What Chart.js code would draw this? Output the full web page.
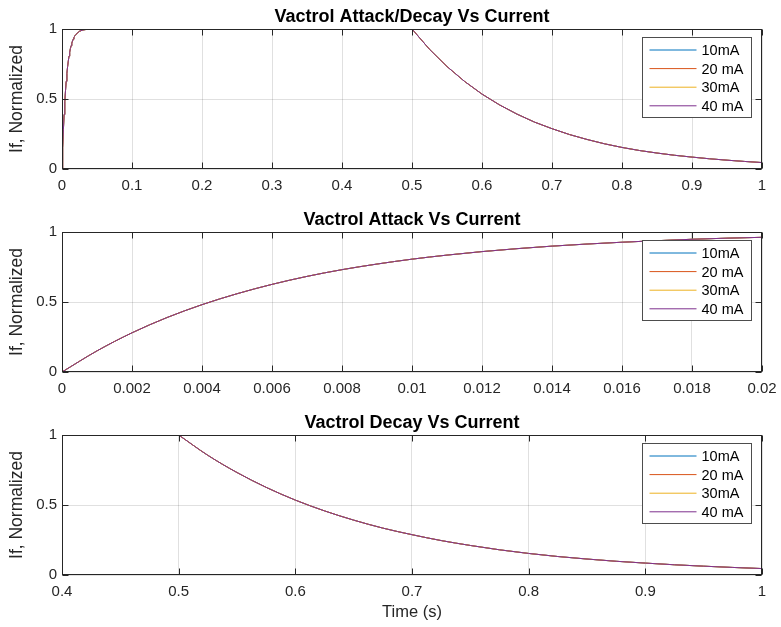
<!DOCTYPE html>
<html>
<head>
<meta charset="utf-8">
<script src="https://cdn.jsdelivr.net/npm/chart.js@4/dist/chart.umd.min.js"></script>
<style>
  html, body { margin: 0; padding: 0; background: #fff; }
  #wrap { position: relative; width: 781px; height: 627px; }
  canvas { position: absolute; left: 0; }
</style>
</head>
<body>
<div id="wrap">
  <canvas id="chartBoth" width="781" height="200" style="top:0px"></canvas>
  <canvas id="chartAttack" width="781" height="200" style="top:200px"></canvas>
  <canvas id="chartDecay" width="781" height="227" style="top:400px"></canvas>
</div>
<script>
// ********
// * Data *
// ********
const currents = ['10mA', '20 mA', '30mA', '40 mA'];
const lineColors = ['#0072BD', '#D95319', '#EDB120', '#7E2F8E'];

// attack
const attackTime = [0, 0.001, 0.002, 0.003, 0.004, 0.005, 0.006, 0.007, 0.008, 0.009, 0.01,
    0.011, 0.012, 0.013, 0.014, 0.015, 0.016, 0.017, 0.018, 0.019, 0.02];
const attackLevel = [0, 0.151, 0.280, 0.389, 0.481, 0.559, 0.626, 0.683, 0.731, 0.771, 0.806,
    0.835, 0.860, 0.881, 0.899, 0.914, 0.927, 0.938, 0.948, 0.956, 0.962];

// settling to full level (top plot)
const settleTime = [0.025, 0.03, 0.035, 0.04];
const settleLevel = [0.984, 0.993, 0.997, 0.999];

// decay after the LED switches off at 0.5 s
const decayTime = [0.5, 0.525, 0.55, 0.575, 0.6, 0.625, 0.65, 0.675, 0.7, 0.725, 0.75,
    0.775, 0.8, 0.825, 0.85, 0.875, 0.9, 0.925, 0.95, 0.975, 1];
const decayLevel = [1, 0.855, 0.732, 0.626, 0.535, 0.458, 0.392, 0.335, 0.288, 0.246, 0.211,
    0.180, 0.154, 0.132, 0.114, 0.098, 0.085, 0.073, 0.063, 0.054, 0.046];

// tick labels
const fullTicks = [0, 0.1, 0.2, 0.3, 0.4, 0.5, 0.6, 0.7, 0.8, 0.9, 1];
const attackTicks = [0, 0.002, 0.004, 0.006, 0.008, 0.01, 0.012, 0.014, 0.016, 0.018, 0.02];
const decayTicks = [0.4, 0.5, 0.6, 0.7, 0.8, 0.9, 1];
const levelTicks = [0, 0.5, 1];

// ***********
// * Helpers *
// ***********
const fontFamily = '"Liberation Sans", Arial, Helvetica, sans-serif';
const axisColor = '#262626';

function toPoints(times, levels) {
    return times.map((t, i) => ({ x: t, y: levels[i] }));
}

function makeDatasets(points, smooth) {
    return currents.map((label, i) => ({
        label: label,
        data: points,
        borderColor: lineColors[i],
        backgroundColor: lineColors[i],
        borderWidth: 1,
        pointRadius: 0,
        showLine: true,
        fill: false,
        cubicInterpolationMode: smooth ? 'monotone' : 'default',
        tension: 0,
        order: currents.length - i // purple ends up on top, like MATLAB
    }));
}

function fmt(v) {
    return String(parseFloat(v.toFixed(6)));
}

// box, inward ticks, bold title and legend, drawn the way MATLAB does it
const matlabAxes = {
    id: 'matlabAxes',
    afterDraw(chart, args, opts) {
        const { ctx, chartArea: a, scales } = chart;
        const L = Math.round(a.left) + 0.5, R = Math.round(a.right) - 0.5;
        const T = Math.round(a.top) + 0.5, B = Math.round(a.bottom) - 0.5;
        ctx.save();
        ctx.strokeStyle = axisColor;
        ctx.lineWidth = 1;
        ctx.beginPath();
        scales.x.ticks.forEach(t => {
            const px = Math.round(scales.x.getPixelForValue(t.value)) + 0.5;
            ctx.moveTo(px, B); ctx.lineTo(px, B - 6);
            ctx.moveTo(px, T); ctx.lineTo(px, T + 6);
        });
        scales.y.ticks.forEach(t => {
            const py = Math.round(scales.y.getPixelForValue(t.value)) + 0.5;
            ctx.moveTo(L, py); ctx.lineTo(L + 6, py);
            ctx.moveTo(R, py); ctx.lineTo(R - 6, py);
        });
        ctx.stroke();
        ctx.strokeRect(L, T, R - L, B - T);

        // title
        ctx.fillStyle = '#000';
        ctx.font = 'bold 18px ' + fontFamily;
        ctx.textAlign = 'center';
        ctx.textBaseline = 'alphabetic';
        ctx.fillText(opts.title, (a.left + a.right) / 2, a.top - 7);

        // legend
        const w = 109, h = 80;
        const lx = Math.round(a.right) - 11 - w + 0.5;
        const ly = Math.round(a.top) + 8 + 0.5;
        ctx.fillStyle = '#fff';
        ctx.fillRect(lx, ly, w, h);
        ctx.strokeStyle = '#4d4d4d';
        ctx.strokeRect(lx, ly, w, h);
        ctx.font = '14.5px ' + fontFamily;
        ctx.textAlign = 'left';
        ctx.textBaseline = 'middle';
        chart.data.datasets.forEach((ds, i) => {
            const ry = ly + 12.5 + i * 18.6;
            ctx.strokeStyle = ds.borderColor;
            ctx.lineWidth = 1;
            ctx.beginPath();
            ctx.moveTo(lx + 7, ry);
            ctx.lineTo(lx + 54, ry);
            ctx.stroke();
            ctx.fillStyle = '#000';
            ctx.fillText(ds.label, lx + 59, ry + 1);
        });
        ctx.restore();
    }
};

function makeOptions(title, xTicks, padTop, xHeight, xTitle) {
    const tickFont = { family: fontFamily, size: 15 };
    return {
        responsive: false,
        animation: false,
        events: [],
        layout: { padding: { top: padTop, right: 19, left: 0, bottom: 0 } },
        plugins: {
            legend: { display: false },
            tooltip: { enabled: false },
            matlabAxes: { title: title }
        },
        scales: {
            x: {
                type: 'linear',
                min: xTicks[0],
                max: xTicks[xTicks.length - 1],
                afterBuildTicks: scale => { scale.ticks = xTicks.map(v => ({ value: v })); },
                afterFit: scale => {
                    scale.height = xHeight;
                    scale.paddingLeft = 0;
                    scale.paddingRight = 0;
                },
                grid: { color: 'rgba(0,0,0,0.12)', drawTicks: false },
                border: { display: false },
                ticks: {
                    font: tickFont, color: axisColor, padding: 8, maxRotation: 0,
                    autoSkip: false, callback: v => fmt(v)
                },
                title: {
                    display: !!xTitle, text: xTitle || '',
                    font: { family: fontFamily, size: 16.5 }, color: axisColor,
                    padding: { top: 0, bottom: 5 }
                }
            },
            y: {
                type: 'linear',
                min: 0,
                max: 1,
                afterBuildTicks: scale => { scale.ticks = levelTicks.map(v => ({ value: v })); },
                afterFit: scale => {
                    scale.width = 62;
                    scale.paddingTop = 0;
                    scale.paddingBottom = 0;
                },
                grid: { color: 'rgba(0,0,0,0.12)', drawTicks: false },
                border: { display: false },
                ticks: { font: tickFont, color: axisColor, padding: 5, callback: v => fmt(v) },
                title: {
                    display: true, text: 'If, Normalized',
                    font: { family: fontFamily, size: 17.5 }, color: axisColor,
                    padding: { top: 7, bottom: 0 }
                }
            }
        }
    };
}

// **********
// * Charts *
// **********
const fullPoints = toPoints(attackTime.concat(settleTime, decayTime),
    attackLevel.concat(settleLevel, decayLevel));

new Chart(document.getElementById('chartBoth'), {
    type: 'scatter',
    data: { datasets: makeDatasets(fullPoints, false) },
    options: makeOptions('Vactrol Attack/Decay Vs Current', fullTicks, 29, 31),
    plugins: [matlabAxes]
});

new Chart(document.getElementById('chartAttack'), {
    type: 'scatter',
    data: { datasets: makeDatasets(toPoints(attackTime, attackLevel), true) },
    options: makeOptions('Vactrol Attack Vs Current', attackTicks, 32, 28),
    plugins: [matlabAxes]
});

new Chart(document.getElementById('chartDecay'), {
    type: 'scatter',
    data: { datasets: makeDatasets(toPoints(decayTime, decayLevel), true) },
    options: makeOptions('Vactrol Decay Vs Current', decayTicks, 35, 52, 'Time (s)'),
    plugins: [matlabAxes]
});
</script>
</body>
</html>
